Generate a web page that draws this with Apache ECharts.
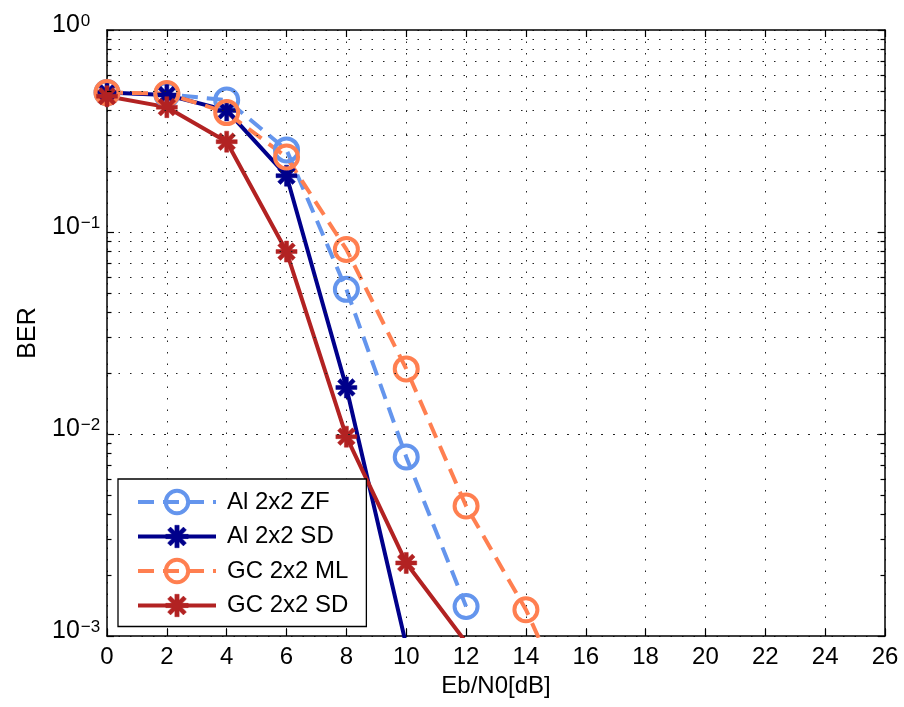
<!DOCTYPE html>
<html>
<head>
<meta charset="utf-8">
<script src="https://cdn.jsdelivr.net/npm/echarts@6/dist/echarts.min.js"></script>
<style>
html,body{margin:0;padding:0;background:#fff;}
#main{width:904px;height:707px;}
</style>
</head>
<body>
<div id="main"></div>
<script>
// ---- data ----
const ebn0 = [0, 2, 4, 6, 8, 10, 12, 14, 16];
const seriesNames = ['Al 2x2 ZF', 'Al 2x2 SD', 'GC 2x2 ML', 'GC 2x2 SD'];
const alZF = [0.49, 0.48, 0.45, 0.255, 0.052, 0.0077, 0.0014];
const alSD = [0.49, 0.477, 0.40, 0.19, 0.017, 0.0009];
const gcML = [0.49, 0.485, 0.39, 0.235, 0.082, 0.021, 0.0044, 0.00135, 0.0003];
const gcSD = [0.47, 0.415, 0.28, 0.08, 0.0097, 0.0023, 0.00093];
const xTicks = [0, 26, 2];            // min, max, interval
const yRange = [0.001, 1];
const minorY = [0.002, 0.003, 0.004, 0.005, 0.006, 0.007, 0.008, 0.009,
                0.02, 0.03, 0.04, 0.05, 0.06, 0.07, 0.08, 0.09,
                0.2, 0.3, 0.4, 0.5, 0.6, 0.7, 0.8, 0.9];

// ---- styling ----
const FONT = 'Liberation Sans, Arial, Helvetica, sans-serif';
const colors = ['#6495ED', '#00008B', '#FF7F50', '#B22222'];
const LW = 4;

function starPath(R, w) {
  const n = 8, pts = [];
  const rin = w / Math.sin(Math.PI / n);
  for (let k = 0; k < n; k++) {
    const a = k * Math.PI / 4;
    const dx = Math.cos(a), dy = Math.sin(a);
    const px = -dy, py = dx;
    pts.push([R * dx - w * px, R * dy - w * py]);
    pts.push([R * dx + w * px, R * dy + w * py]);
    const b = a + Math.PI / 8;
    pts.push([rin * Math.cos(b), rin * Math.sin(b)]);
  }
  return 'path://M' + pts.map(p => p[0].toFixed(3) + ',' + p[1].toFixed(3)).join(' L') + ' Z';
}
const STAR = starPath(5, 0.95);

function pairs(vals) { return vals.map((v, i) => [ebn0[i], v]); }

const dotted = { color: '#222', width: 1, type: [1.5, 10] };
const DASH = [16, 9];

function circleSeries(name, vals, color) {
  return {
    name, type: 'line', data: pairs(vals), z: 3,
    symbol: 'circle', symbolSize: 23,
    lineStyle: { color, width: LW, type: DASH },
    itemStyle: { color: 'rgba(0,0,0,0)', borderColor: color, borderWidth: 4 },
    emphasis: { disabled: true }
  };
}
function starSeries(name, vals, color) {
  return {
    name, type: 'line', data: pairs(vals), z: 3,
    symbol: STAR, symbolSize: 21,
    lineStyle: { color, width: LW },
    itemStyle: { color, borderColor: color, borderWidth: 0.5 },
    emphasis: { disabled: true }
  };
}

const minorTickLines = [];
minorY.forEach(v => {
  minorTickLines.push([{ coord: [xTicks[0], v] }, { coord: [xTicks[0] + 0.15, v] }]);
  minorTickLines.push([{ coord: [xTicks[1] - 0.15, v] }, { coord: [xTicks[1], v] }]);
});

const legendData = seriesNames.map((n, i) => {
  const isCircle = (i % 2 === 0);
  return {
    name: n,
    itemStyle: isCircle
      ? { color: 'rgba(0,0,0,0)', borderColor: colors[i], borderWidth: 4 }
      : { color: colors[i], borderColor: colors[i], borderWidth: 0.5 },
    lineStyle: { color: colors[i], width: LW, type: isCircle ? DASH : 'solid' }
  };
});

const chart = echarts.init(document.getElementById('main'), null, { renderer: 'canvas' });
chart.setOption({
  animation: false,
  backgroundColor: '#fff',
  textStyle: { fontFamily: FONT },
  grid: { left: 107, right: 19, top: 30, bottom: 71, containLabel: false },
  legend: {
    orient: 'vertical', left: 118, top: 479,
    padding: [9, 18, 7, 18],
    itemWidth: 78, itemHeight: 28, itemGap: 6.5,
    backgroundColor: '#fff', borderColor: '#000', borderWidth: 1.3,
    textStyle: { fontSize: 24, fontFamily: FONT, color: '#000', lineHeight: 28, padding: [0, 0, 0, 6] },
    data: legendData
  },
  xAxis: [{
    type: 'value', min: xTicks[0], max: xTicks[1], interval: xTicks[2],
    name: 'Eb/N0[dB]', nameLocation: 'middle', nameGap: 35,
    nameTextStyle: { fontSize: 24, fontFamily: FONT, color: '#000' },
    axisLine: { show: true, onZero: false, lineStyle: { color: '#000', width: 1.5 } },
    axisTick: { show: true, inside: true, length: 7, lineStyle: { color: '#000', width: 1.2 } },
    axisLabel: { fontSize: 24, fontFamily: FONT, color: '#000', margin: 9 },
    splitLine: { show: true, lineStyle: dotted }
  }, {
    type: 'value', min: xTicks[0], max: xTicks[1], interval: xTicks[2], position: 'top',
    axisLine: { show: true, onZero: false, lineStyle: { color: '#000', width: 1.5 } },
    axisTick: { show: true, inside: true, length: 7, lineStyle: { color: '#000', width: 1.2 } },
    axisLabel: { show: false }, splitLine: { show: false }
  }],
  yAxis: [{
    type: 'log', logBase: 10, min: yRange[0], max: yRange[1],
    name: 'BER', nameLocation: 'middle', nameGap: 63,
    nameTextStyle: { fontSize: 25, fontFamily: FONT, color: '#000' },
    axisLine: { show: true, onZero: false, lineStyle: { color: '#000', width: 1.5 } },
    axisTick: { show: true, inside: true, length: 7, lineStyle: { color: '#000', width: 1.2 } },
    axisLabel: {
      margin: 55, align: 'left', padding: [0, 0, 10, 0],
      formatter: function (v) {
        const e = Math.round(Math.log10(v));
        return '{b|10}{s|' + (e < 0 ? '\u2212' + (-e) : e) + '}';
      },
      rich: {
        b: { fontSize: 25, fontFamily: FONT, color: '#000', lineHeight: 25, verticalAlign: 'bottom' },
        s: { fontSize: 17, fontFamily: FONT, color: '#000', lineHeight: 17, verticalAlign: 'top', padding: [0, 0, 18, 1] }
      }
    },
    splitLine: { show: true, lineStyle: dotted }
  }, {
    type: 'log', logBase: 10, min: yRange[0], max: yRange[1], position: 'right',
    axisLine: { show: true, onZero: false, lineStyle: { color: '#000', width: 1.5 } },
    axisTick: { show: true, inside: true, length: 7, lineStyle: { color: '#000', width: 1.2 } },
    axisLabel: { show: false }, splitLine: { show: false }
  }],
  series: [
    {
      name: '_grid', type: 'line', data: [], z: 1, silent: true,
      markLine: {
        silent: true, symbol: ['none', 'none'], label: { show: false },
        emphasis: { disabled: true },
        data: minorY.map(v => ({ yAxis: v, lineStyle: dotted }))
          .concat(minorTickLines.map(seg => [Object.assign({}, seg[0], { lineStyle: { color: '#000', width: 1.2, type: 'solid' } }), seg[1]]))
      }
    },
    circleSeries(seriesNames[0], alZF, colors[0]),
    starSeries(seriesNames[1], alSD, colors[1]),
    circleSeries(seriesNames[2], gcML, colors[2]),
    starSeries(seriesNames[3], gcSD, colors[3])
  ]
});
</script>
</body>
</html>
